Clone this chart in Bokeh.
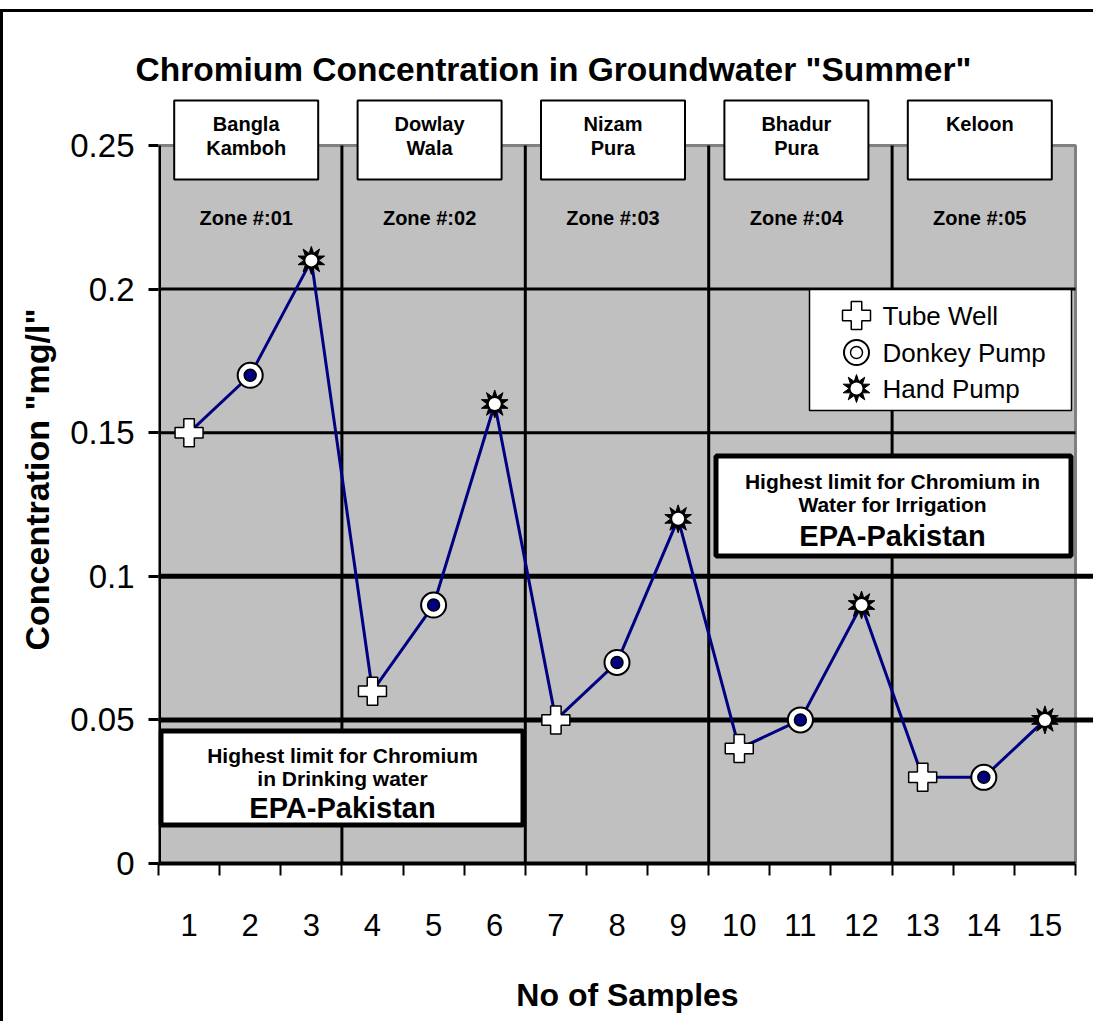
import math
from bokeh.plotting import figure
from bokeh.models import Range1d, FixedTicker, Label
from bokeh.embed import file_html
from bokeh.resources import INLINE

# ---------------- data ----------------
samples = [1, 2, 3, 4, 5, 6, 7, 8, 9, 10, 11, 12, 13, 14, 15]
concentration = [0.15, 0.17, 0.21, 0.06, 0.09, 0.16, 0.05, 0.07, 0.12,
                 0.04, 0.05, 0.09, 0.03, 0.03, 0.05]
sample_source = ["Tube Well", "Donkey Pump", "Hand Pump",
                 "Tube Well", "Donkey Pump", "Hand Pump",
                 "Tube Well", "Donkey Pump", "Hand Pump",
                 "Tube Well", "Donkey Pump", "Hand Pump",
                 "Tube Well", "Donkey Pump", "Hand Pump"]
source_types = ["Tube Well", "Donkey Pump", "Hand Pump"]
zone_places = ["Bangla\nKamboh", "Dowlay\nWala", "Nizam\nPura", "Bhadur\nPura", "Keloon"]
zone_names = ["Zone #:01", "Zone #:02", "Zone #:03", "Zone #:04", "Zone #:05"]
samples_per_zone = 3
y_ticks = [0, 0.05, 0.1, 0.15, 0.2, 0.25]
y_tick_labels = ["0", "0.05", "0.1", "0.15", "0.2", "0.25"]
x_tick_labels = ["1", "2", "3", "4", "5", "6", "7", "8", "9", "10", "11", "12", "13", "14", "15"]
drinking_limit = 0.05
irrigation_limit = 0.1
drinking_text = "Highest limit for Chromium\nin Drinking water"
irrigation_text = "Highest limit for Chromium in\nWater for Irrigation"
agency = "EPA-Pakistan"
title_text = 'Chromium Concentration in Groundwater "Summer"'
x_title = "No of Samples"
y_title = 'Concentration "mg/l"'

# ---------------- layout ----------------
W, H = 1093, 1012
OX, OY = 3, 12                      # canvas origin on the page
FRAME_L, FRAME_T = 155, 83
FRAME_B = H - (863 - OY)
PX_PER_X = 917 / 15
PX_PER_Y = 718 / 0.25
frame_w = W - FRAME_L
frame_h = H - FRAME_B - FRAME_T
x_start = samples[0] - 0.5
x_end = x_start + frame_w / PX_PER_X
y_end = frame_h / PX_PER_Y
FRAME_BOTTOM_PX = OY + FRAME_T + frame_h


def X(px):
    return x_start + (px - (OX + FRAME_L)) / PX_PER_X


def Y(py):
    return (FRAME_BOTTOM_PX - py) / PX_PER_Y


def dxp(px):
    return px / PX_PER_X


NAVY = "#000080"
GREY = "#C0C0C0"
SANS = "Liberation Sans"

p = figure(width=W, height=H, x_range=Range1d(x_start, x_end), y_range=Range1d(0, y_end),
           output_backend="svg", toolbar_location=None,
           min_border_left=FRAME_L, min_border_right=0, min_border_top=FRAME_T,
           min_border_bottom=FRAME_B)
p.outline_line_color = None
p.background_fill_color = "white"
p.border_fill_color = "white"
p.xgrid.visible = False
p.ygrid.visible = False
p.styles = {"margin-top": "9px", "border-left": "3px solid black", "border-top": "3px solid black"}

x_lo = samples[0] - 0.5
x_hi = samples[-1] + 0.5
y_lo, y_hi = y_ticks[0], y_ticks[-1]

# plot area
p.quad(left=[x_lo], right=[x_hi], bottom=[y_lo], top=[y_hi], fill_color=GREY, line_color=None)
p.line([x_lo, x_hi, x_hi], [y_hi, y_hi, y_lo], line_color="#808080", line_width=3)

# ordinary gridlines
grid_vals = [v for v in y_ticks if v not in (y_lo, y_hi, drinking_limit, irrigation_limit)]
p.segment(x0=[x_lo] * len(grid_vals), x1=[x_hi] * len(grid_vals), y0=grid_vals, y1=grid_vals,
          line_color="black", line_width=3)

# zone separators
zone_bounds = [x_lo + samples_per_zone * k for k in range(1, len(zone_names))]
p.segment(x0=zone_bounds, x1=zone_bounds, y0=[y_lo] * len(zone_bounds), y1=[y_hi] * len(zone_bounds),
          line_color="black", line_width=3)

# limit lines
limits = [drinking_limit, irrigation_limit]
p.segment(x0=[x_lo] * 2, x1=[x_end] * 2, y0=limits, y1=limits, line_color="black", line_width=5)

# y axis line
p.segment(x0=[x_lo], x1=[x_lo], y0=[y_lo], y1=[y_hi], line_color="black", line_width=5)

# data line
p.line(samples, concentration, line_color=NAVY, line_width=3)


def pick(kind):
    xs = [s for s, t in zip(samples, sample_source) if t == kind]
    ys = [c for c, t in zip(concentration, sample_source) if t == kind]
    return xs, ys


def draw_marker(kind, xs, ys, legend=False):
    if kind == "Tube Well":
        p.scatter(xs, ys, marker="plus", size=28, fill_color="white", line_color="black", line_width=1.5)
    elif kind == "Donkey Pump":
        p.scatter(xs, ys, marker="circle", size=25, fill_color="white", line_color="black", line_width=2)
        p.scatter(xs, ys, marker="circle", size=12, fill_color="white" if legend else NAVY,
                  line_color="black", line_width=1.5)
    else:
        p.scatter(xs, ys, marker="star", size=28, fill_color="black", line_color="black", line_width=1)
        p.scatter(xs, ys, marker="star", size=28, angle=math.pi / 5, fill_color="black",
                  line_color="black", line_width=1)
        p.scatter(xs, ys, marker="circle", size=12, fill_color="white", line_color=None)


for kind in source_types:
    xs, ys = pick(kind)
    draw_marker(kind, xs, ys)

# ---------------- zone boxes ----------------
zone_centers = [sum(samples[k * samples_per_zone:(k + 1) * samples_per_zone]) / samples_per_zone
                for k in range(len(zone_names))]
box_c = [c - dxp(4) for c in zone_centers]
half = dxp(72)
p.quad(left=[c - half for c in box_c], right=[c + half for c in box_c],
       bottom=[Y(179)] * len(box_c), top=[Y(100)] * len(box_c),
       fill_color="white", line_color="black", line_width=2)
for c, place, zn in zip(box_c, zone_places, zone_names):
    p.add_layout(Label(x=c, y=Y(112), text=place, text_align="center", text_baseline="top",
                       text_font=SANS, text_font_style="bold", text_font_size="20px",
                       text_line_height=1.1, text_color="black"))
    p.add_layout(Label(x=c, y=Y(217), text=zn, text_align="center", text_baseline="middle",
                       text_font=SANS, text_font_style="bold", text_font_size="20px",
                       text_color="black"))

# ---------------- limit boxes ----------------
p.quad(left=[X(715.5), X(160.5)], right=[X(1070.5), X(522.5)],
       top=[Y(455.5), Y(730.5)], bottom=[Y(555.5), Y(824.5)],
       fill_color="white", line_color="black", line_width=5)
for cx, ty, ey, txt in [(892, 469, 535, irrigation_text), (342, 743, 807, drinking_text)]:
    p.add_layout(Label(x=X(cx), y=Y(ty), text=txt, text_align="center", text_baseline="top",
                       text_font=SANS, text_font_style="bold", text_font_size="21px",
                       text_line_height=1.02, text_color="black"))
    p.add_layout(Label(x=X(cx), y=Y(ey), text=agency, text_align="center", text_baseline="middle",
                       text_font=SANS, text_font_style="bold", text_font_size="29px",
                       text_color="black"))

# ---------------- legend ----------------
p.quad(left=[X(809)], right=[X(1071)], top=[Y(289)], bottom=[Y(410)],
       fill_color="white", line_color="black", line_width=1.5)
for kind, ry in zip(source_types, [315, 352, 388]):
    draw_marker(kind, [X(856)], [Y(ry)], legend=True)
    p.add_layout(Label(x=X(882), y=Y(ry), text=kind, text_align="left", text_baseline="middle",
                       text_font=SANS, text_font_size="26px", text_color="black"))

# ---------------- title ----------------
p.title.text = title_text
p.title.align = "left"
p.title.offset = -23
p.title.text_font = SANS
p.title.text_font_style = "bold"
p.title.text_font_size = "33.5px"
p.title.text_color = "black"
p.title.standoff = 16

# ---------------- axes ----------------
p.yaxis.ticker = FixedTicker(ticks=y_ticks)
p.yaxis.major_label_overrides = {t: l for t, l in zip(y_ticks, y_tick_labels)}
p.yaxis.bounds = (y_lo, Y(447) * 2)
p.yaxis.axis_line_color = None
p.yaxis.major_tick_out = 10
p.yaxis.major_tick_in = 0
p.yaxis.major_tick_line_width = 3
p.yaxis.major_tick_line_color = "black"
p.yaxis.minor_tick_line_color = None
p.yaxis.major_label_standoff = 14
p.yaxis.major_label_text_font = SANS
p.yaxis.major_label_text_font_size = "33px"
p.yaxis.major_label_text_color = "black"
p.yaxis.axis_label = y_title
p.yaxis.axis_label_text_font = SANS
p.yaxis.axis_label_text_font_style = "bold"
p.yaxis.axis_label_text_font_size = "34px"
p.yaxis.axis_label_text_color = "black"
p.yaxis.axis_label_standoff = 11

minor = [s - 0.5 for s in samples] + [samples[-1] + 0.5]
p.xaxis.ticker = FixedTicker(ticks=samples, minor_ticks=minor)
p.xaxis.major_label_overrides = {s: l for s, l in zip(samples, x_tick_labels)}
p.xaxis.bounds = (x_lo, x_hi)
p.xaxis.axis_line_width = 4
p.xaxis.axis_line_color = "black"
p.xaxis.major_tick_line_color = None
p.xaxis.major_tick_out = 0
p.xaxis.major_tick_in = 0
p.xaxis.minor_tick_out = 12
p.xaxis.minor_tick_in = 0
p.xaxis.minor_tick_line_width = 2
p.xaxis.minor_tick_line_color = "black"
p.xaxis.major_label_standoff = 38
p.xaxis.major_label_text_font = SANS
p.xaxis.major_label_text_font_size = "31px"
p.xaxis.major_label_text_color = "black"
p.xaxis.axis_label = x_title
p.xaxis.axis_label_text_font = SANS
p.xaxis.axis_label_text_font_style = "bold"
p.xaxis.axis_label_text_font_size = "32px"
p.xaxis.axis_label_text_color = "black"
p.xaxis.axis_label_standoff = 38

open("out.html", "w").write(file_html(p, INLINE))
